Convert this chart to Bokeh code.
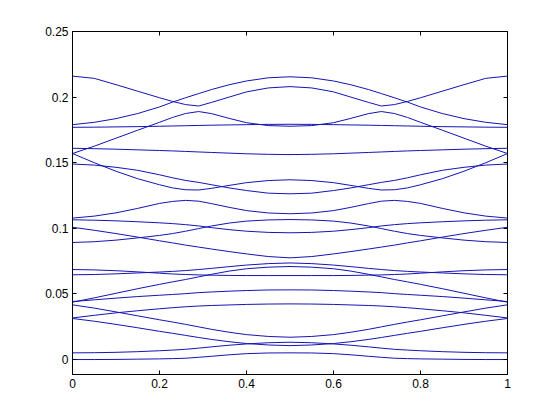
from bokeh.plotting import figure
from bokeh.models import Range1d, LinearAxis, FixedTicker
from bokeh.embed import file_html
from bokeh.resources import INLINE

# wave-vector samples
k = [0, 0.05, 0.1, 0.15, 0.2, 0.23, 0.26, 0.29, 0.32, 0.36, 0.4, 0.45, 0.5,
     0.55, 0.6, 0.64, 0.68, 0.71, 0.74, 0.77, 0.8, 0.85, 0.9, 0.95, 1]

band_01 = [0.2160, 0.2143, 0.2095, 0.2045, 0.1995, 0.1967, 0.1943, 0.1932, 0.1960, 0.2000, 0.2040, 0.2070, 0.2080,
           0.2070, 0.2040, 0.2000, 0.1960, 0.1932, 0.1943, 0.1967, 0.1995, 0.2045, 0.2095, 0.2143, 0.2160]
band_02 = [0.1790, 0.1808, 0.1836, 0.1875, 0.1925, 0.1962, 0.1995, 0.2027, 0.2058, 0.2094, 0.2123, 0.2147, 0.2155,
           0.2147, 0.2123, 0.2094, 0.2058, 0.2027, 0.1995, 0.1962, 0.1925, 0.1875, 0.1836, 0.1808, 0.1790]
band_03 = [0.1770, 0.1771, 0.1773, 0.1775, 0.1778, 0.1780, 0.1782, 0.1784, 0.1786, 0.1788, 0.1790, 0.1792, 0.1793,
           0.1792, 0.1790, 0.1788, 0.1786, 0.1784, 0.1782, 0.1780, 0.1778, 0.1775, 0.1773, 0.1771, 0.1770]
band_04 = [0.1570, 0.1626, 0.1687, 0.1748, 0.1808, 0.1845, 0.1875, 0.1890, 0.1874, 0.1838, 0.1805, 0.1783, 0.1778,
           0.1783, 0.1805, 0.1838, 0.1874, 0.1890, 0.1875, 0.1845, 0.1808, 0.1748, 0.1687, 0.1626, 0.1570]
band_05 = [0.1610, 0.1607, 0.1603, 0.1598, 0.1593, 0.1590, 0.1586, 0.1582, 0.1578, 0.1573, 0.1568, 0.1564, 0.1562,
           0.1564, 0.1568, 0.1573, 0.1578, 0.1582, 0.1586, 0.1590, 0.1593, 0.1598, 0.1603, 0.1607, 0.1610]
band_06 = [0.1570, 0.1500, 0.1435, 0.1378, 0.1332, 0.1308, 0.1294, 0.1292, 0.1305, 0.1327, 0.1348, 0.1364, 0.1370,
           0.1364, 0.1348, 0.1327, 0.1305, 0.1292, 0.1294, 0.1308, 0.1332, 0.1378, 0.1435, 0.1500, 0.1570]
band_07 = [0.1490, 0.1482, 0.1465, 0.1442, 0.1408, 0.1385, 0.1365, 0.1350, 0.1332, 0.1308, 0.1288, 0.1268, 0.1263,
           0.1268, 0.1288, 0.1308, 0.1332, 0.1350, 0.1365, 0.1385, 0.1408, 0.1442, 0.1465, 0.1482, 0.1490]
band_08 = [0.1078, 0.1093, 0.1118, 0.1152, 0.1190, 0.1205, 0.1213, 0.1207, 0.1188, 0.1160, 0.1135, 0.1117, 0.1111,
           0.1117, 0.1135, 0.1160, 0.1188, 0.1207, 0.1213, 0.1205, 0.1190, 0.1152, 0.1118, 0.1093, 0.1078]
band_09 = [0.1065, 0.1062, 0.1057, 0.1050, 0.1042, 0.1036, 0.1028, 0.1018, 0.1005, 0.0990, 0.0978, 0.0969, 0.0966,
           0.0969, 0.0978, 0.0990, 0.1005, 0.1018, 0.1028, 0.1036, 0.1042, 0.1050, 0.1057, 0.1062, 0.1065]
band_10 = [0.0892, 0.0898, 0.0910, 0.0927, 0.0946, 0.0960, 0.0978, 0.0998, 0.1018, 0.1040, 0.1055, 0.1064, 0.1067,
           0.1064, 0.1055, 0.1040, 0.1018, 0.0998, 0.0978, 0.0960, 0.0946, 0.0927, 0.0910, 0.0898, 0.0892]
band_11 = [0.1008, 0.0985, 0.0960, 0.0933, 0.0905, 0.0889, 0.0872, 0.0857, 0.0842, 0.0823, 0.0805, 0.0785, 0.0775,
           0.0785, 0.0805, 0.0823, 0.0842, 0.0857, 0.0872, 0.0889, 0.0905, 0.0933, 0.0960, 0.0985, 0.1008]
band_12 = [0.0686, 0.0683, 0.0677, 0.0668, 0.0658, 0.0652, 0.0648, 0.0645, 0.0643, 0.0641, 0.0640, 0.0640, 0.0640,
           0.0640, 0.0640, 0.0641, 0.0643, 0.0645, 0.0648, 0.0652, 0.0658, 0.0668, 0.0677, 0.0683, 0.0686]
band_13 = [0.0646, 0.0648, 0.0653, 0.0660, 0.0667, 0.0672, 0.0678, 0.0686, 0.0695, 0.0708, 0.0720, 0.0731, 0.0736,
           0.0731, 0.0720, 0.0708, 0.0695, 0.0686, 0.0678, 0.0672, 0.0667, 0.0660, 0.0653, 0.0648, 0.0646]
band_14 = [0.0437, 0.0470, 0.0505, 0.0540, 0.0573, 0.0592, 0.0610, 0.0630, 0.0650, 0.0674, 0.0692, 0.0704, 0.0709,
           0.0704, 0.0692, 0.0674, 0.0650, 0.0630, 0.0610, 0.0592, 0.0573, 0.0540, 0.0505, 0.0470, 0.0437]
band_15 = [0.0442, 0.0455, 0.0468, 0.0480, 0.0490, 0.0496, 0.0502, 0.0510, 0.0515, 0.0521, 0.0526, 0.0530, 0.0531,
           0.0530, 0.0526, 0.0521, 0.0515, 0.0510, 0.0502, 0.0496, 0.0490, 0.0480, 0.0468, 0.0455, 0.0442]
band_16 = [0.0317, 0.0337, 0.0356, 0.0372, 0.0387, 0.0395, 0.0402, 0.0408, 0.0412, 0.0416, 0.0420, 0.0423, 0.0424,
           0.0423, 0.0420, 0.0416, 0.0412, 0.0408, 0.0402, 0.0395, 0.0387, 0.0372, 0.0356, 0.0337, 0.0317]
band_17 = [0.0417, 0.0392, 0.0363, 0.0333, 0.0303, 0.0286, 0.0268, 0.0249, 0.0230, 0.0208, 0.0190, 0.0176, 0.0170,
           0.0176, 0.0190, 0.0208, 0.0230, 0.0249, 0.0268, 0.0286, 0.0303, 0.0333, 0.0363, 0.0392, 0.0417]
band_18 = [0.0313, 0.0292, 0.0268, 0.0242, 0.0215, 0.0200, 0.0184, 0.0168, 0.0153, 0.0136, 0.0122, 0.0111, 0.0106,
           0.0111, 0.0122, 0.0136, 0.0153, 0.0168, 0.0184, 0.0200, 0.0215, 0.0242, 0.0268, 0.0292, 0.0313]
band_19 = [0.0051, 0.0052, 0.0055, 0.0060, 0.0067, 0.0072, 0.0078, 0.0087, 0.0097, 0.0109, 0.0119, 0.0128, 0.0132,
           0.0128, 0.0119, 0.0109, 0.0097, 0.0087, 0.0078, 0.0072, 0.0067, 0.0060, 0.0055, 0.0052, 0.0051]
band_20 = [0.0000, 0.0000, 0.0001, 0.0003, 0.0005, 0.0007, 0.0010, 0.0017, 0.0025, 0.0036, 0.0045, 0.0050, 0.0051,
           0.0050, 0.0045, 0.0036, 0.0025, 0.0017, 0.0010, 0.0007, 0.0005, 0.0003, 0.0001, 0.0000, 0.0000]

bands = [band_01, band_02, band_03, band_04, band_05, band_06, band_07, band_08, band_09, band_10,
         band_11, band_12, band_13, band_14, band_15, band_16, band_17, band_18, band_19, band_20]

x_ticks = [0, 0.2, 0.4, 0.6, 0.8, 1]
x_tick_labels = ["0", "0.2", "0.4", "0.6", "0.8", "1"]
y_ticks = [0, 0.05, 0.1, 0.15, 0.2, 0.25]
y_tick_labels = ["0", "0.05", "0.1", "0.15", "0.2", "0.25"]

FONT = "Liberation Sans"
LINE_COLOR = "#1414b4"

p = figure(width=552, height=412, output_backend="svg", toolbar_location=None,
           x_axis_location=None, y_axis_location=None,
           x_range=Range1d(0, 1), y_range=Range1d(-0.0114, 0.25),
           min_border_left=72, min_border_right=45, min_border_top=31, min_border_bottom=38)
p.grid.visible = False
p.background_fill_color = "white"
p.border_fill_color = "white"
p.outline_line_color = "black"
p.outline_line_width = 1

for b in bands:
    p.line(k, b, line_color=LINE_COLOR, line_width=1)


def make_axis(ticks, labels, show_labels):
    ax = LinearAxis(ticker=FixedTicker(ticks=ticks))
    ax.major_label_overrides = {t: l for t, l in zip(ticks, labels)}
    ax.major_tick_in = 4
    ax.major_tick_out = 0
    ax.minor_tick_in = 0
    ax.minor_tick_out = 0
    ax.axis_line_color = "black"
    ax.major_tick_line_color = "black"
    ax.major_label_text_font = FONT
    ax.major_label_text_font_size = "12px"
    ax.major_label_text_color = "black"
    ax.major_label_standoff = 4
    if not show_labels:
        ax.major_label_text_alpha = 0
        ax.major_label_text_font_size = "1px"
    return ax


p.add_layout(make_axis(x_ticks, x_tick_labels, True), "below")
p.add_layout(make_axis(x_ticks, x_tick_labels, False), "above")
p.add_layout(make_axis(y_ticks, y_tick_labels, True), "left")
p.add_layout(make_axis(y_ticks, y_tick_labels, False), "right")

open("out.html", "w").write(file_html(p, INLINE))
